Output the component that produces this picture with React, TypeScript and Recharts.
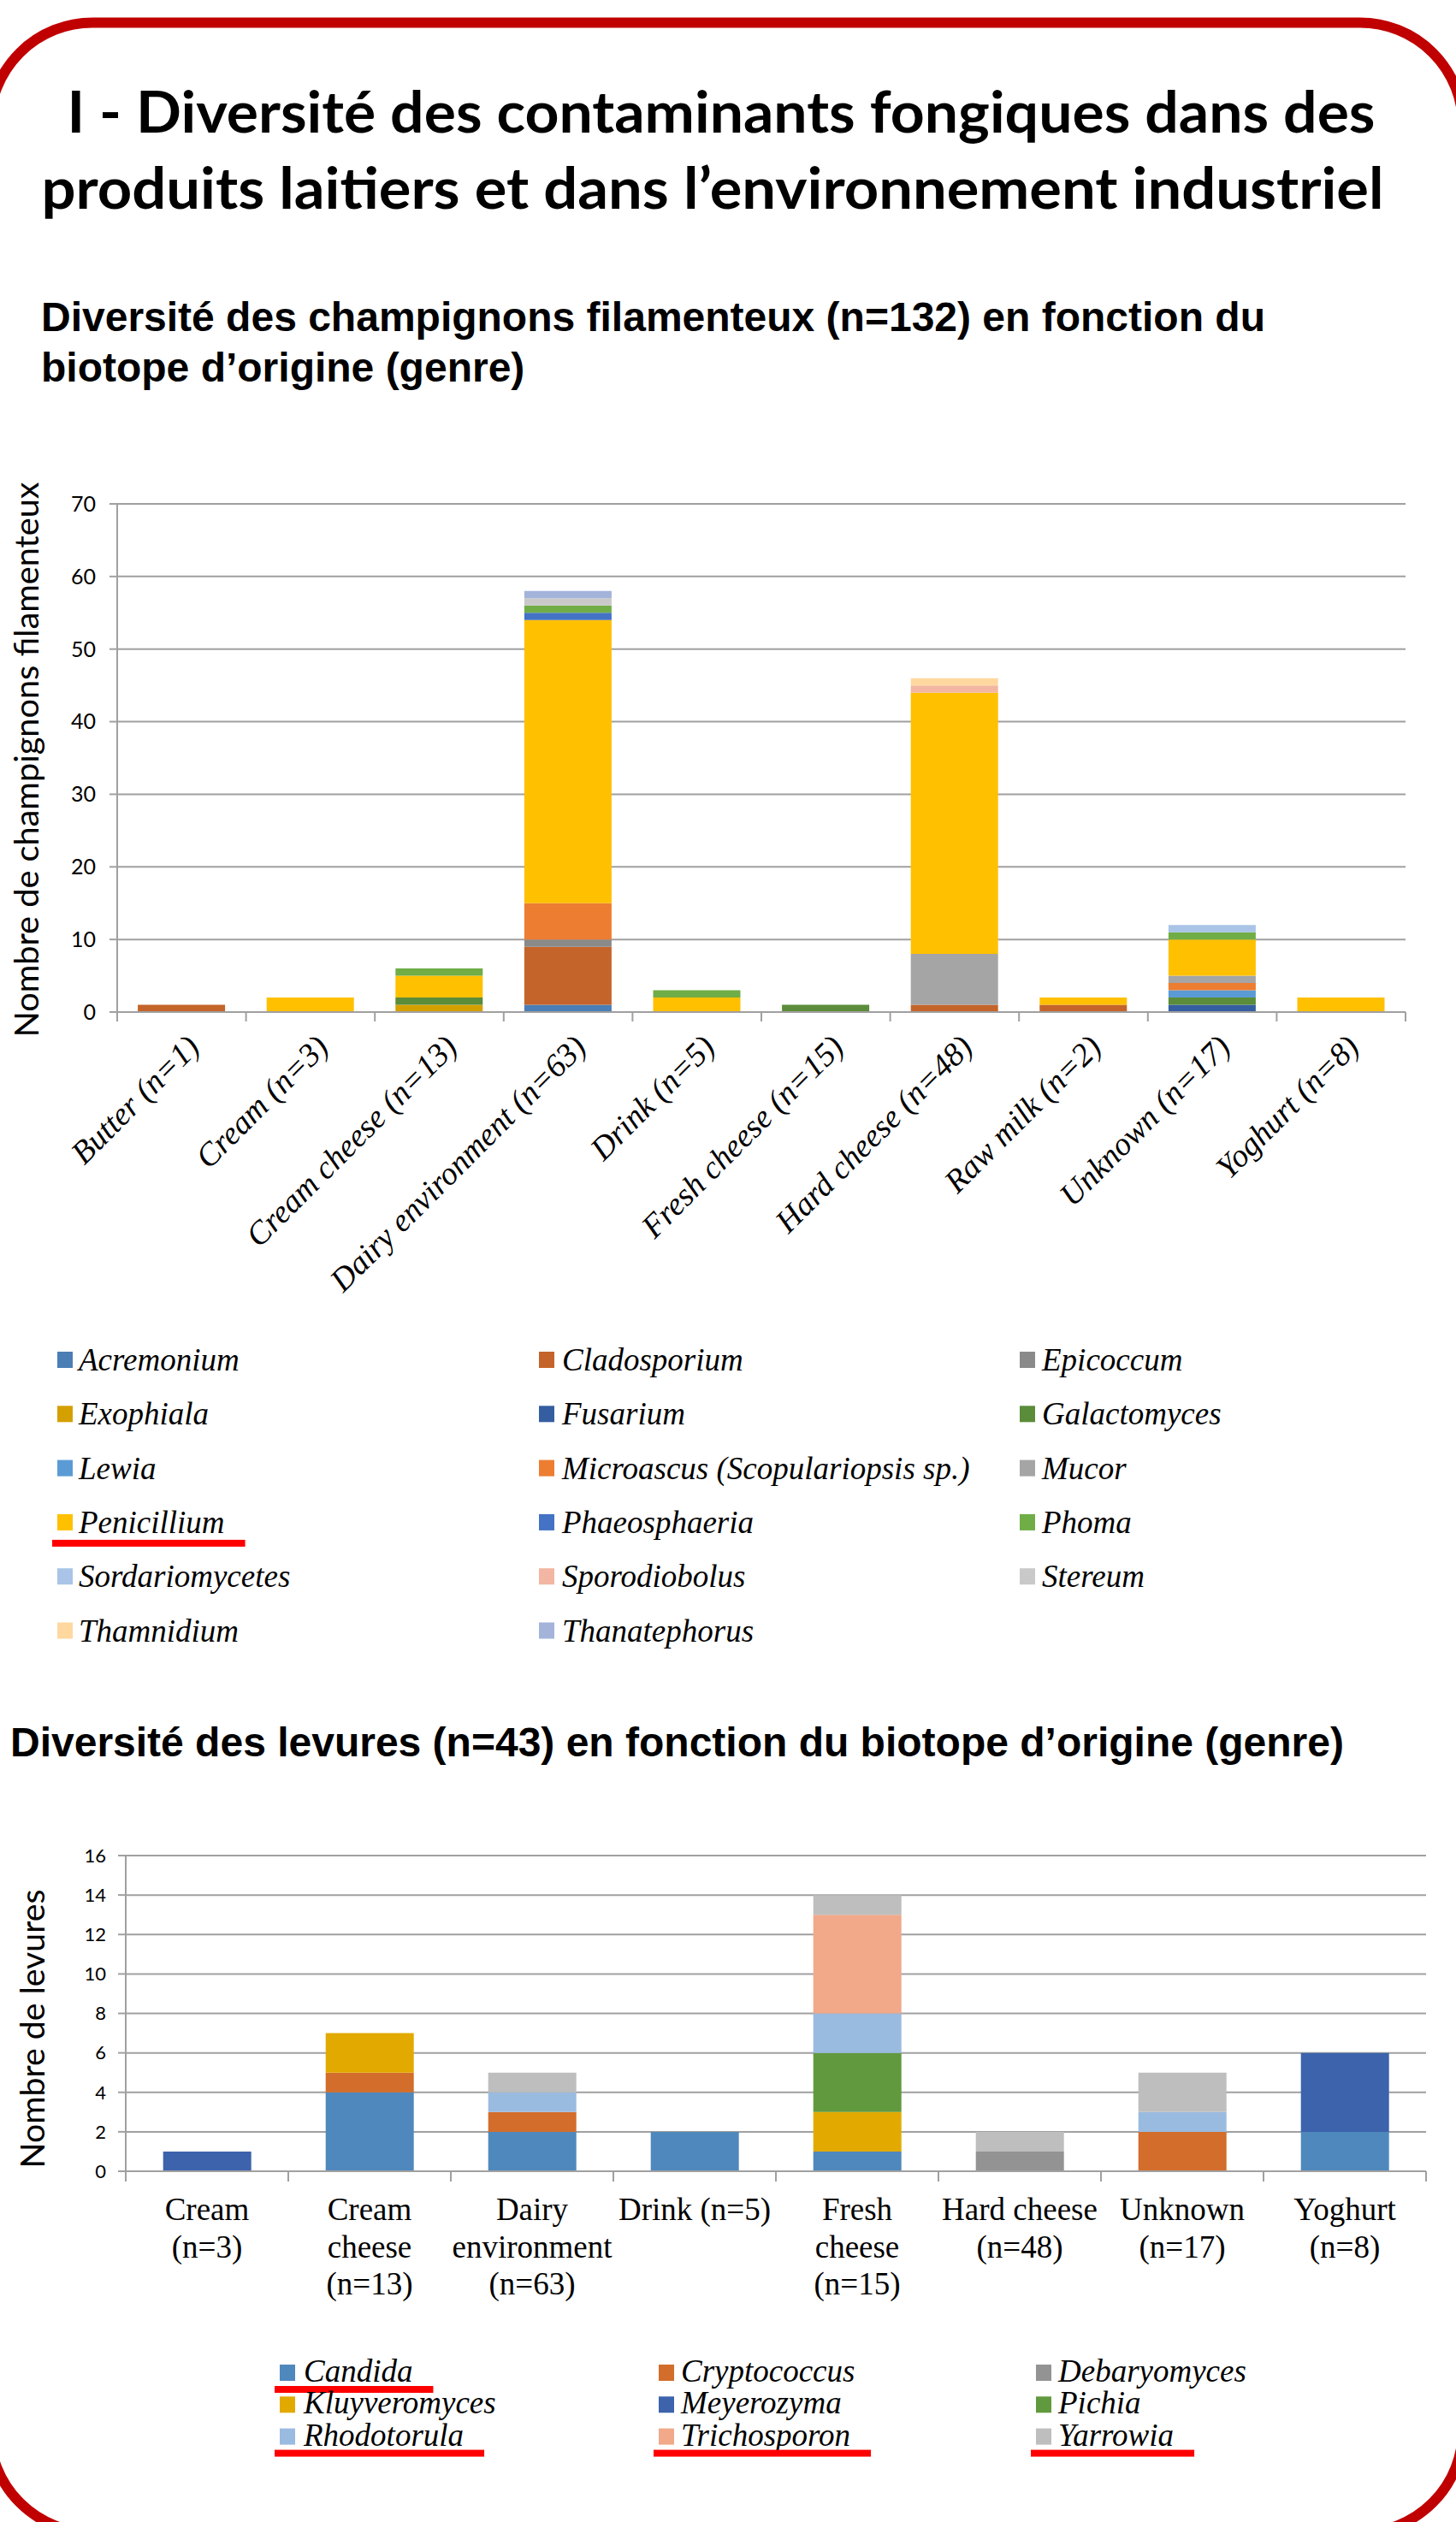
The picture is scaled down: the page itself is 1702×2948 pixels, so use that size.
import React from 'react';
import { BarChart, Bar, XAxis, YAxis, CartesianGrid, Legend } from 'recharts';

const PAGE_W = 1702;
const PAGE_H = 2948;
const GRID = '#A0A0A0';

// ---------------- Chart 1 : filamentous fungi ----------------
const moldCategories = [
  'Butter (n=1)', 'Cream (n=3)', 'Cream cheese (n=13)', 'Dairy environment (n=63)', 'Drink (n=5)',
  'Fresh cheese (n=15)', 'Hard cheese (n=48)', 'Raw milk (n=2)', 'Unknown (n=17)', 'Yoghurt (n=8)',
];
const moldGenera = [
  'Acremonium', 'Cladosporium', 'Epicoccum', 'Exophiala', 'Fusarium', 'Galactomyces', 'Lewia',
  'Microascus (Scopulariopsis sp.)', 'Mucor', 'Penicillium', 'Phaeosphaeria', 'Phoma',
  'Sordariomycetes', 'Sporodiobolus', 'Stereum', 'Thamnidium', 'Thanatephorus',
];
const acremonium = [0, 0, 0, 1, 0, 0, 0, 0, 0, 0];
const cladosporium = [1, 0, 0, 8, 0, 0, 1, 1, 0, 0];
const epicoccum = [0, 0, 0, 1, 0, 0, 0, 0, 0, 0];
const exophiala = [0, 0, 1, 0, 0, 0, 0, 0, 0, 0];
const fusarium = [0, 0, 0, 0, 0, 0, 0, 0, 1, 0];
const galactomyces = [0, 0, 1, 0, 0, 1, 0, 0, 1, 0];
const lewia = [0, 0, 0, 0, 0, 0, 0, 0, 1, 0];
const microascus = [0, 0, 0, 5, 0, 0, 0, 0, 1, 0];
const mucor = [0, 0, 0, 0, 0, 0, 7, 0, 1, 0];
const penicillium = [0, 2, 3, 39, 2, 0, 36, 1, 5, 2];
const phaeosphaeria = [0, 0, 0, 1, 0, 0, 0, 0, 0, 0];
const phoma = [0, 0, 1, 1, 1, 0, 0, 0, 1, 0];
const sordariomycetes = [0, 0, 0, 0, 0, 0, 0, 0, 1, 0];
const sporodiobolus = [0, 0, 0, 0, 0, 0, 1, 0, 0, 0];
const stereum = [0, 0, 0, 1, 0, 0, 0, 0, 0, 0];
const thamnidium = [0, 0, 0, 0, 0, 0, 1, 0, 0, 0];
const thanatephorus = [0, 0, 0, 1, 0, 0, 0, 0, 0, 0];
const moldValues = [
  acremonium, cladosporium, epicoccum, exophiala, fusarium, galactomyces, lewia, microascus,
  mucor, penicillium, phaeosphaeria, phoma, sordariomycetes, sporodiobolus, stereum, thamnidium, thanatephorus,
];
const moldColors = [
  '#4A7EB4', '#C4642A', '#8A8A8A', '#D4A000', '#355EA0', '#5B8C3A', '#5B9BD5',
  '#ED7D31', '#A5A5A5', '#FFC000', '#4472C4', '#70AD47',
  '#A9C4E6', '#F3B6A2', '#C9C9C9', '#FFD8A0', '#A4B3DA',
];
const moldYTicks = [0, 10, 20, 30, 40, 50, 60, 70];
const moldUnderlined = ['Penicillium'];

// ---------------- Chart 2 : yeasts ----------------
const yeastCategories = [
  'Cream (n=3)', 'Cream cheese (n=13)', 'Dairy environment (n=63)', 'Drink (n=5)',
  'Fresh cheese (n=15)', 'Hard cheese (n=48)', 'Unknown (n=17)', 'Yoghurt (n=8)',
];
const yeastTickLines = [
  ['Cream', '(n=3)'],
  ['Cream', 'cheese', '(n=13)'],
  ['Dairy', 'environment', '(n=63)'],
  ['Drink (n=5)'],
  ['Fresh', 'cheese', '(n=15)'],
  ['Hard cheese', '(n=48)'],
  ['Unknown', '(n=17)'],
  ['Yoghurt', '(n=8)'],
];
const yeastGenera = [
  'Candida', 'Cryptococcus', 'Debaryomyces', 'Kluyveromyces', 'Meyerozyma', 'Pichia',
  'Rhodotorula', 'Trichosporon', 'Yarrowia',
];
const candida = [0, 4, 2, 2, 1, 0, 0, 2];
const cryptococcus = [0, 1, 1, 0, 0, 0, 2, 0];
const debaryomyces = [0, 0, 0, 0, 0, 1, 0, 0];
const kluyveromyces = [0, 2, 0, 0, 2, 0, 0, 0];
const meyerozyma = [1, 0, 0, 0, 0, 0, 0, 4];
const pichia = [0, 0, 0, 0, 3, 0, 0, 0];
const rhodotorula = [0, 0, 1, 0, 2, 0, 1, 0];
const trichosporon = [0, 0, 0, 0, 5, 0, 0, 0];
const yarrowia = [0, 0, 1, 0, 1, 1, 2, 0];
const yeastValues = [candida, cryptococcus, debaryomyces, kluyveromyces, meyerozyma, pichia, rhodotorula, trichosporon, yarrowia];
const yeastColors = ['#4F88BC', '#D36D2B', '#939393', '#E2AA00', '#3C63AC', '#619A3E', '#9ABBE0', '#F1A98A', '#BEBEBE'];
const yeastYTicks = [0, 2, 4, 6, 8, 10, 12, 14, 16];
const yeastUnderlined = ['Candida', 'Rhodotorula', 'Trichosporon', 'Yarrowia'];

// ---------------- helpers ----------------
const buildRows = (cats: string[], genera: string[], values: number[][]) =>
  cats.map((c, i) => {
    const row: Record<string, any> = { category: c };
    genera.forEach((g, j) => {
      row[g] = values[j][i];
    });
    return row;
  });

const moldRows = buildRows(moldCategories, moldGenera, moldValues);
const yeastRows = buildRows(yeastCategories, yeastGenera, yeastValues);

let measureCtx: CanvasRenderingContext2D | null = null;
const measureText = (text: string, font: string) => {
  if (!measureCtx) measureCtx = document.createElement('canvas').getContext('2d');
  if (!measureCtx) return text.length * 15;
  measureCtx.font = font;
  return measureCtx.measureText(text).width;
};

const SERIF = 'Liberation Serif, Times New Roman, serif';
const CALIBRI = 'Lato, Carlito, Calibri, sans-serif';

const MoldTick = (props: any) => {
  const { x, y, payload, index, visibleTicksCount, width } = props;
  const half = payload && payload.offset ? payload.offset : (width || 1506) / (visibleTicksCount || 10) / 2;
  const ax = x + 23;
  const ay = y + 43;
  const last = index === (visibleTicksCount || 10) - 1;
  return (
    <g>
      <line x1={x - half} x2={x - half} y1={y} y2={y + 11} stroke={GRID} strokeWidth={2} />
      {last && <line x1={x + half} x2={x + half} y1={y} y2={y + 11} stroke={GRID} strokeWidth={2} />}
      <text
        x={ax}
        y={ay}
        transform={`rotate(-45 ${ax} ${ay})`}
        textAnchor="end"
        fontFamily={SERIF}
        fontStyle="italic"
        fontSize={38}
        fill="#000"
      >
        {payload.value}
      </text>
    </g>
  );
};

const YeastTick = (props: any) => {
  const { x, y, payload, index, visibleTicksCount, width } = props;
  const half = payload && payload.offset ? payload.offset : (width || 1520) / (visibleTicksCount || 8) / 2;
  const idx = yeastCategories.indexOf(payload.value);
  const lines = idx >= 0 ? yeastTickLines[idx] : [String(payload.value)];
  const last = index === (visibleTicksCount || 8) - 1;
  return (
    <g>
      <line x1={x - half} x2={x - half} y1={y} y2={y + 12} stroke={GRID} strokeWidth={2} />
      {last && <line x1={x + half} x2={x + half} y1={y} y2={y + 12} stroke={GRID} strokeWidth={2} />}
      <text x={x} y={y + 57} textAnchor="middle" fontFamily={SERIF} fontSize={37} fill="#000">
        {lines.map((l, k) => (
          <tspan key={k} x={x} dy={k === 0 ? 0 : 43.5}>
            {l}
          </tspan>
        ))}
      </text>
    </g>
  );
};

const makeYTitle = (text: string, length: number, baselineX: number, dyOffset: number) => (props: any) => {
  const vb = props.viewBox || { x: 0, y: 0, width: 0, height: 0 };
  const cy = vb.y + vb.height / 2 + dyOffset;
  return (
    <text
      x={baselineX}
      y={cy}
      transform={`rotate(-90 ${baselineX} ${cy})`}
      textAnchor="middle"
      fontFamily={CALIBRI}
      fontSize={38}
      fill="#000"
      textLength={length}
      lengthAdjust="spacingAndGlyphs"
    >
      {text}
    </text>
  );
};

type LegendCfg = {
  firstBaseline: number;
  rowGap: number;
  swatchX: number[];
  textX: number[];
  swatchTop: number;
  swatchH: number;
  underlined: string[];
  ulDy: number;
  ulH: number;
};

const makeLegend = (cfg: LegendCfg) => (props: any) => {
  const items: any[] = props.payload || [];
  const font = `italic 37px "Liberation Serif"`;
  return (
    <svg width={PAGE_W} height={1} style={{ position: 'absolute', left: 0, top: 0, overflow: 'visible', display: 'block' }}>
      {items.map((it, i) => {
        const row = Math.floor(i / 3);
        const col = i % 3;
        const by = cfg.firstBaseline + row * cfg.rowGap;
        const label = String(it.value);
        const ul = cfg.underlined.includes(label);
        const w = ul ? measureText(label, font) : 0;
        return (
          <g key={label}>
            <rect x={cfg.swatchX[col]} y={by + cfg.swatchTop} width={18} height={cfg.swatchH} fill={it.color} />
            <text x={cfg.textX[col]} y={by} fontFamily={SERIF} fontStyle="italic" fontSize={37} fill="#000">
              {label}
            </text>
            {ul && (
              <rect
                x={cfg.swatchX[col] - 6}
                y={by + cfg.ulDy}
                width={cfg.textX[col] - cfg.swatchX[col] + 6 + w + 24}
                height={cfg.ulH}
                fill="#FF0000"
              />
            )}
          </g>
        );
      })}
    </svg>
  );
};

const moldLegend = makeLegend({
  firstBaseline: 1062,
  rowGap: 63.3,
  swatchX: [67, 630, 1192],
  textX: [92, 657, 1218],
  swatchTop: -22,
  swatchH: 19,
  underlined: moldUnderlined,
  ulDy: 8,
  ulH: 8,
});

const yeastLegend = makeLegend({
  firstBaseline: 684,
  rowGap: 37.3,
  swatchX: [327, 770, 1211],
  textX: [355, 796, 1237],
  swatchTop: -20,
  swatchH: 19,
  underlined: yeastUnderlined,
  ulDy: 5,
  ulH: 8,
});

export default function App() {
  return (
    <div style={{ position: 'absolute', left: 0, top: 0, width: PAGE_W, height: PAGE_H, background: '#fff', overflow: 'hidden' }}>
      <svg width={PAGE_W} height={PAGE_H} style={{ position: 'absolute', left: 0, top: 0 }}>
        <rect x={-12} y={26.5} width={1722} height={2934} rx={120} ry={120} fill="none" stroke="#C00000" strokeWidth={12} />
        <text x={843} y={155} textAnchor="middle" fontFamily={CALIBRI} fontWeight={700} fontSize={66} fill="#000" textLength={1529} lengthAdjust="spacingAndGlyphs">
          I - Diversité des contaminants fongiques dans des
        </text>
        <text x={833} y={244} textAnchor="middle" fontFamily={CALIBRI} fontWeight={700} fontSize={66} fill="#000" textLength={1569} lengthAdjust="spacingAndGlyphs">
          produits laitiers et dans l’environnement industriel
        </text>
        <text x={48} y={387} fontFamily="Liberation Sans, Arial, sans-serif" fontWeight={700} fontSize={48} fill="#000">
          Diversité des champignons filamenteux (n=132) en fonction du
        </text>
        <text x={48} y={446} fontFamily="Liberation Sans, Arial, sans-serif" fontWeight={700} fontSize={48} fill="#000">
          biotope d’origine (genre)
        </text>
        <text x={12} y={2053} fontFamily="Liberation Sans, Arial, sans-serif" fontWeight={700} fontSize={48} fill="#000">
          Diversité des levures (n=43) en fonction du biotope d’origine (genre)
        </text>
      </svg>

      <div style={{ position: 'absolute', left: 0, top: 540 }}>
        <BarChart
          width={PAGE_W}
          height={1420}
          data={moldRows}
          margin={{ top: 49, right: 59, bottom: 477, left: 0 }}
          barCategoryGap="16%"
        >
          <CartesianGrid horizontal vertical={false} stroke={GRID} strokeWidth={2} />
          <XAxis
            dataKey="category"
            interval={0}
            height={300}
            tickLine={false}
            tickSize={0}
            tickMargin={0}
            axisLine={{ stroke: GRID, strokeWidth: 2 }}
            tick={<MoldTick />}
          />
          <YAxis
            width={137}
            domain={[0, 70]}
            ticks={moldYTicks}
            interval={0}
            tickSize={9}
            tickMargin={16}
            tickLine={{ stroke: GRID, strokeWidth: 2 }}
            axisLine={{ stroke: GRID, strokeWidth: 2 }}
            tick={{ fill: '#000', fontSize: 25, fontFamily: CALIBRI }}
            label={{ content: makeYTitle('Nombre de champignons filamenteux', 649, 45, 2) }}
          />
          {moldGenera.map((g, i) => (
            <Bar key={g} dataKey={g} name={g} stackId="mold" fill={moldColors[i]} isAnimationActive={false} />
          ))}
          <Legend content={moldLegend} wrapperStyle={{ left: 0, top: 0, width: PAGE_W, height: 0 }} />
        </BarChart>
      </div>

      <div style={{ position: 'absolute', left: 0, top: 2100 }}>
        <BarChart
          width={PAGE_W}
          height={848}
          data={yeastRows}
          margin={{ top: 69, right: 35, bottom: 210, left: 0 }}
          barCategoryGap="23%"
        >
          <CartesianGrid horizontal vertical={false} stroke={GRID} strokeWidth={2} />
          <XAxis
            dataKey="category"
            interval={0}
            height={200}
            tickLine={false}
            tickSize={0}
            tickMargin={0}
            axisLine={{ stroke: GRID, strokeWidth: 2 }}
            tick={<YeastTick />}
          />
          <YAxis
            width={147}
            domain={[0, 16]}
            ticks={yeastYTicks}
            interval={0}
            tickSize={9}
            tickMargin={14}
            tickLine={{ stroke: GRID, strokeWidth: 2 }}
            axisLine={{ stroke: GRID, strokeWidth: 2 }}
            tick={{ fill: '#000', fontSize: 22, fontFamily: CALIBRI }}
            label={{ content: makeYTitle('Nombre de levures', 326, 52, 18) }}
          />
          {yeastGenera.map((g, i) => (
            <Bar key={g} dataKey={g} name={g} stackId="yeast" fill={yeastColors[i]} isAnimationActive={false} />
          ))}
          <Legend content={yeastLegend} wrapperStyle={{ left: 0, top: 0, width: PAGE_W, height: 0 }} />
        </BarChart>
      </div>
    </div>
  );
}
